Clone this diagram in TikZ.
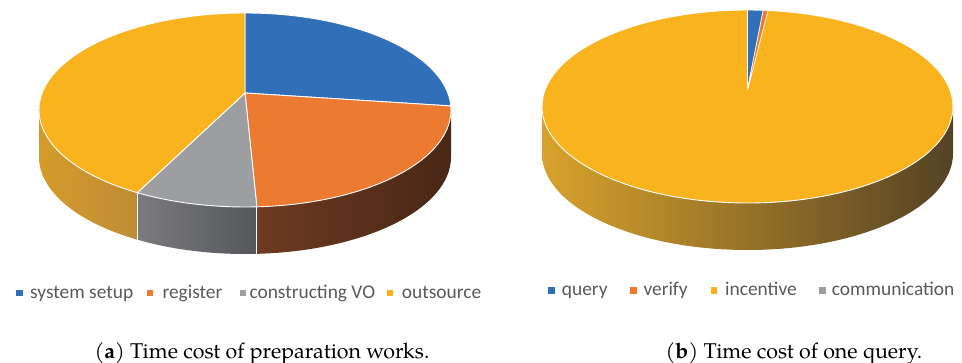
\documentclass[tikz,border=0pt]{standalone}
\usepackage{fontspec}
\setmainfont{Carlito}
\newfontfamily\capfont{texgyrepagella}[Extension=.otf,UprightFont=*-regular,BoldFont=*-bold]
\definecolor{cblue}{HTML}{3170B8}
\definecolor{corange}{HTML}{EC7A31}
\definecolor{cgray}{HTML}{9D9EA1}
\definecolor{cyellow}{HTML}{F9B31F}
\definecolor{legtext}{HTML}{595959}
\definecolor{wyA1}{HTML}{D49B2A}
\definecolor{wyA2}{HTML}{BF8C36}
\definecolor{wgA1}{HTML}{7B7B7F}
\definecolor{wgA2}{HTML}{55575A}
\definecolor{woA1}{HTML}{6E3A21}
\definecolor{woA2}{HTML}{4C2A18}
\definecolor{woA3}{HTML}{482716}
\definecolor{wyB1}{HTML}{D8A22B}
\definecolor{wyB2}{HTML}{977336}
\definecolor{wyB3}{HTML}{554225}
\newcommand\pietop[8]{% style, cx, cy, apex y, rx, ry, t1, t2
  \filldraw[#1] (#2,#4) -- ([shift={(#2,#3)}]#7:#5 and #6)
    arc[start angle=#7,end angle=#8,x radius=#5,y radius=#6] -- cycle;}
\newcommand\piewall[8]{% style, cx, cy, depth, rx, ry, t1, t2
  \shade[#1] ([shift={(#2,#3)}]#7:#5 and #6)
    arc[start angle=#7,end angle=#8,x radius=#5,y radius=#6]
    -- ([shift={(#2,#3+#4)}]#8:#5 and #6)
    arc[start angle=#8,end angle=#7,x radius=#5,y radius=#6] -- cycle;}
\newcommand\wallsep[6]{% cx, cy, depth, rx, ry, t
  \draw[sepline] ([shift={(#1,#2)}]#6:#4 and #5) -- ([shift={(#1,#2+#3)}]#6:#4 and #5);}
\begin{document}
\begin{tikzpicture}[x=1pt,y=-1pt,
  topslice/.style={draw=white,line width=0.9pt,line join=round},
  sepline/.style={draw=white,line width=0.9pt},
  legsq/.style={rectangle,minimum size=6.6pt,inner sep=0pt},
  legtxt/.style={anchor=base west,inner sep=0pt,text=legtext,font=\fontsize{19.4}{22}\selectfont},
  captxt/.style={anchor=base,inner sep=0pt,font=\capfont\fontsize{21.4}{24}\selectfont}]
\useasboundingbox (0,0) rectangle (962,363);
% ---------- pie (a) ----------
\piewall{left color=wyA1,right color=wyA2}{245}{110}{47}{206}{97}{121.5}{180}
\piewall{left color=wgA1,right color=wgA2}{245}{110}{47}{206}{97}{86.7}{121.5}
\piewall{left color=woA1,middle color=woA2,right color=woA3}{245}{110}{47}{206}{97}{0}{86.7}
\wallsep{245}{110}{47}{206}{97}{86.7}
\wallsep{245}{110}{47}{206}{97}{121.5}
\pietop{topslice,fill=cblue}{245}{110}{93}{206}{97}{-90}{-2.4}
\pietop{topslice,fill=corange}{245}{110}{93}{206}{97}{-2.4}{86.7}
\pietop{topslice,fill=cgray}{245}{110}{93}{206}{97}{86.7}{121.5}
\pietop{topslice,fill=cyellow}{245}{110}{93}{206}{97}{121.5}{270}
% ---------- pie (b) ----------
\piewall{left color=wyB1,middle color=wyB2,right color=wyB3}{747.5}{106.5}{47}{205.5}{96.5}{0}{180}
\pietop{topslice,fill=cyellow}{747.5}{106.5}{89.5}{205.5}{96.5}{-84.3}{270}
\pietop{topslice,fill=cblue}{747.5}{106.5}{89.5}{205.5}{96.5}{-90}{-85.6}
\pietop{topslice,fill=corange,line width=0.5pt}{747.5}{106.5}{89.5}{205.5}{96.5}{-85.6}{-84.3}
% ---------- legend (a) ----------
\node[legsq,fill=cblue]   (sqa1) at (19.4,293) {};
\node[legtxt] (la1) at (30,298.3) {system setup};
\node[legsq,fill=corange] (sqa2) at (150,293) {};
\node[legtxt] (la2) at (162.3,298.3) {register};
\node[legsq,fill=cgray]   (sqa3) at (243,293) {};
\node[legtxt] (la3) at (249.3,298.3) {constructing VO};
\node[legsq,fill=cyellow] (sqa4) at (390,293) {};
\node[legtxt] (la4) at (401.7,298.3) {outsource};
% ---------- legend (b) ----------
\node[legsq,fill=cblue]   (sqb1) at (551.5,290.3) {};
\node[legtxt] (lb1) at (561.7,295.7) {query};
\node[legsq,fill=corange] (sqb2) at (633.5,290.3) {};
\node[legtxt] (lb2) at (643.3,295.7) {verify};
\node[legsq,fill=cyellow] (sqb3) at (714,290.3) {};
\node[legtxt] (lb3) at (725,295.7) {incentive};
\node[legsq,fill=cgray]   (sqb4) at (822.5,290.3) {};
\node[legtxt] (lb4) at (831.7,295.7) {communication};
% ---------- captions ----------
\node[captxt] (capa) at (262,358.5) {(\textbf{a}) Time cost of preparation works.};
\node[captxt] (capb) at (794,358.5) {(\textbf{b}) Time cost of one query.};
\end{tikzpicture}
\end{document}
